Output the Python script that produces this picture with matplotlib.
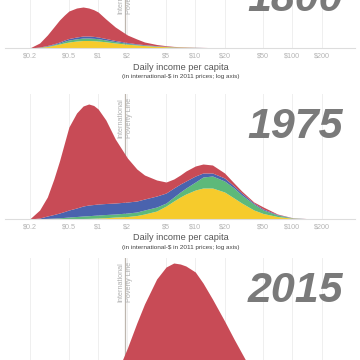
import numpy as np
import matplotlib.pyplot as plt
from matplotlib.ticker import NullLocator

plt.rcParams['font.family'] = ['Liberation Sans', 'DejaVu Sans']

# Datos: ingreso diario (x) y bordes superiores de las capas apiladas (alturas)
income = [0.15, 0.2, 0.25, 0.3, 0.35, 0.4, 0.45, 0.5, 0.6, 0.7, 0.8, 0.9, 1, 1.2, 1.5, 2,
          2.5, 3, 4, 5, 6, 7, 8, 10, 12, 15, 20, 25, 30, 40, 50, 70, 100, 150, 200]

# 1800
y1800_yellow = [0, 0, 0.6, 1.5, 2.8, 4, 5.1, 6, 7, 7.5, 7.5, 7.3, 7, 6.2, 5, 3.8,
                3, 2.4, 1.7, 1.3, 1, 0.9, 0.75, 0.55, 0.4, 0.27, 0.2, 0.12, 0.07, 0.03, 0, 0, 0, 0, 0]
y1800_green = [0, 0, 0.8, 2, 3.5, 5, 6.7, 8, 9.2, 10, 10, 9.7, 9.3, 8, 6.4, 4.7,
               3.6, 2.8, 2, 1.5, 1.15, 1, 0.8, 0.6, 0.45, 0.3, 0.22, 0.13, 0.08, 0.04, 0, 0, 0, 0, 0]
y1800_blue = [0, 0, 1, 2.5, 4.2, 6, 8, 9.5, 11, 12, 12, 11.6, 11, 9.5, 7.5, 5.5,
              4.2, 3.3, 2.3, 1.7, 1.3, 1.1, 0.9, 0.7, 0.5, 0.35, 0.25, 0.15, 0.1, 0.05, 0, 0, 0, 0, 0]
y1800_red = [0, 0.3, 5, 13, 21, 28, 33, 37, 40, 41, 40, 38.3, 36, 29, 21, 13,
             9, 6, 3.5, 2.3, 1.6, 1.3, 1.1, 0.8, 0.6, 0.4, 0.3, 0.2, 0.1, 0.05, 0, 0, 0, 0, 0]

# 1975
y1975_yellow = [0, 0, 0, 0.1, 0.15, 0.2, 0.25, 0.3, 0.4, 0.5, 0.6, 0.8, 1, 1.3, 2, 2.5,
                3.5, 5, 8, 13, 18, 22, 25, 29, 31, 31, 27, 21, 16, 9, 5.5, 2.5, 0.8, 0.1, 0]
y1975_green = [0, 0, 0.3, 0.6, 0.9, 1.2, 1.6, 2, 2.5, 3, 3.3, 3.7, 4, 4.5, 5, 6,
               7, 9, 12, 16, 22, 27, 31, 37, 42, 43, 38, 31, 24, 15, 9, 4, 1, 0.2, 0]
y1975_blue = [0, 0, 1, 3, 4.5, 6, 7.5, 9, 11, 13, 14, 14.5, 15, 15.5, 16, 17,
              18, 20, 23, 26, 31, 35, 38, 43, 46, 46, 41, 33, 26, 16, 10, 4.5, 1.2, 0.2, 0]
y1975_red = [0, 0.5, 9, 22, 40, 58, 76, 92, 106, 113, 115, 113.5, 110, 99, 80, 61,
             50, 44, 39, 37, 40, 44, 48, 53, 55, 54, 46, 36, 28, 17, 12, 5, 1.3, 0.3, 0]

# 2015 (sólo se ve la parte superior)
y2015_red = [0, 0, 0, 0, 0, 0, 0, 0, 0, 0, 0, 0, 0, 0.5, 6, 35,
             60, 79, 104, 116, 120, 119, 117, 111, 100, 84, 62, 44, 30, 8, 3, 1, 0, 0, 0]

tick_vals = [0.2, 0.5, 1, 2, 5, 10, 20, 50, 100, 200]
tick_labels = ['$0.2', '$0.5', '$1', '$2', '$5', '$10', '$20', '$50', '$100', '$200']
poverty_line = 1.9

colors = ['#F6CB2C', '#5DB97A', '#4A63AE', '#C84B56']

# (año, capas, línea base px, borde superior px, línea base del título px)
panels = [
    ('1800', [y1800_yellow, y1800_green, y1800_blue, y1800_red], 48, -30, 11),
    ('1975', [y1975_yellow, y1975_green, y1975_blue, y1975_red], 219, 94, 138),
    ('2015', [y2015_red], 383, 258, 302),
]


def fy(px):
    return 1 - px / 360


fig = plt.figure(figsize=(3.6, 3.6), dpi=100)

for year, layers, base, top, title_y in panels:
    h = base - top
    ax = fig.add_axes([5 / 360, fy(base), 350 / 360, h / 360])
    ax.set_xscale('log')
    ax.set_xlim(0.11, 440)
    ax.set_ylim(0, h)

    cols = colors if len(layers) == 4 else colors[-1:]
    lower = np.zeros(len(income))
    for upper, c in zip(layers, cols):
        ax.fill_between(income, lower, upper, color=c, lw=0, zorder=2)
        lower = np.array(upper)

    ax.axvline(poverty_line, color='#bdb6ae', lw=0.9, zorder=1)
    ax.text(poverty_line, h - 4, 'International\nPoverty Line', rotation=90,
            ha='center', va='top', ma='right', fontsize=5.2, color='#b0b0b0',
            linespacing=1.3, zorder=1)

    ax.set_xticks(tick_vals)
    ax.xaxis.set_minor_locator(NullLocator())
    ax.set_yticks([])
    ax.grid(axis='x', color='#efefef', lw=0.7, zorder=0)
    ax.set_axisbelow(True)
    for s in ['top', 'left', 'right']:
        ax.spines[s].set_visible(False)
    ax.spines['bottom'].set_color('#dddddd')
    ax.spines['bottom'].set_linewidth(0.8)
    ax.patch.set_alpha(0)

    fig.text(343 / 360, fy(title_y), year, ha='right', va='baseline', fontsize=31,
             fontweight='bold', fontstyle='italic', color='#7a7a7a')

    if base < 360:
        ax.set_xticklabels(tick_labels)
        ax.tick_params(axis='x', length=0, pad=3.2, labelsize=5.2, labelcolor='#b5b5b5')
        fig.text(181 / 360, fy(base + 19), 'Daily income per capita', ha='center',
                 va='center', fontsize=6.6, color='#555555')
        fig.text(181 / 360, fy(base + 28.5), '(in international-$ in 2011 prices; log axis)',
                 ha='center', va='center', fontsize=4.6, color='#444444')
    else:
        ax.tick_params(axis='x', length=0, labelbottom=False)

fig.savefig('out.png', dpi=100, facecolor='white')
